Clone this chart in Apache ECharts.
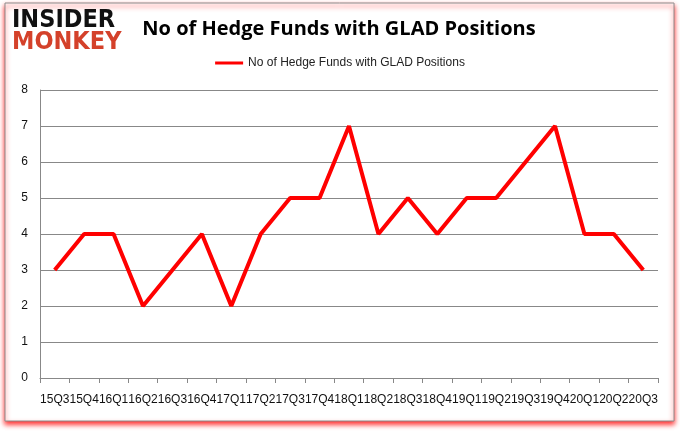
<!DOCTYPE html>
<html><head><meta charset="utf-8">
<script src="https://cdn.jsdelivr.net/npm/echarts@6/dist/echarts.min.js"></script>
<style>html,body{margin:0;padding:0;background:#fff}#c{width:680px;height:433px}</style>
</head><body><div id="c"></div>
<script>
var categories = ['15Q3','15Q4','16Q1','16Q2','16Q3','16Q4','17Q1','17Q2','17Q3','17Q4','18Q1','18Q2','18Q3','18Q4','19Q1','19Q2','19Q3','19Q4','20Q1','20Q2','20Q3'];
var hedgeFunds = [3,4,4,2,3,4,2,4,5,5,7,4,5,4,5,5,6,7,4,4,3];
var seriesName = 'No of Hedge Funds with GLAD Positions';
var titleText = 'No of Hedge Funds with GLAD Positions';

var chart = echarts.init(document.getElementById('c'), null, {renderer:'canvas'});
chart.setOption({
  animation:false,
  backgroundColor:'#fff',
  graphic:[
    {type:'rect', z:-10, shape:{x:5,y:3,width:669,height:418},
     style:{fill:'#fff', stroke:'#8c8c8c', lineWidth:1, shadowColor:'rgba(255,0,0,0.85)', shadowBlur:5, shadowOffsetX:0, shadowOffsetY:3}},
    {type:'text', left:12, top:8, style:{text:'INSIDER', font:'bold 25px "DejaVu Sans Condensed"', fill:'#111'}},
    {type:'text', left:12, top:30, style:{text:'MONKEY', font:'bold 25px "DejaVu Sans Condensed"', fill:'#d4412a'}}
  ],
  title:{text:titleText, left:334, top:14, textAlign:'center',
    textStyle:{fontFamily:'Open Sans', fontWeight:'bold', fontSize:20, color:'#000'}},
  legend:{top:52, left:'center', itemWidth:28, itemHeight:3, icon:'rect', itemGap:5,
    textStyle:{fontFamily:'Liberation Sans', fontSize:12, color:'#222'},
    data:[seriesName]},
  grid:{left:40, right:22, top:90, bottom:55, containLabel:false},
  xAxis:{type:'category', data:categories, boundaryGap:true,
    axisLine:{lineStyle:{color:'#888', width:1}},
    axisTick:{show:true, length:5, interval:0, lineStyle:{color:'#888'}},
    axisLabel:{interval:0, margin:16, fontFamily:'Liberation Sans', fontSize:12, color:'#111'}},
  yAxis:{type:'value', min:0, max:8, interval:1,
    axisLine:{show:true, lineStyle:{color:'#888'}},
    axisTick:{show:false},
    splitLine:{lineStyle:{color:'#888', width:1}},
    axisLabel:{margin:12, fontFamily:'Liberation Sans', fontSize:12, color:'#111'}},
  series:[{name:seriesName, type:'line', data:hedgeFunds, showSymbol:false, symbol:'none',
    lineStyle:{color:'#ff0000', width:4}, itemStyle:{color:'#ff0000'}}]
});
</script></body></html>
